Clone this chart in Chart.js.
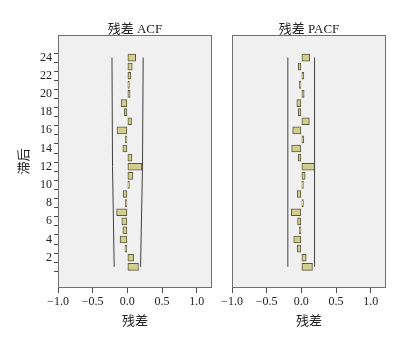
<!DOCTYPE html>
<html>
<head>
<meta charset="utf-8">
<script src="https://cdn.jsdelivr.net/npm/chart.js@4/dist/chart.umd.min.js"></script>
<style>
    body { margin: 0; background: #ffffff; }
    #wrap { position: relative; width: 403px; height: 338px; }
    canvas { position: absolute; top: 0; }
</style>
</head>
<body>
<div id="wrap">
    <canvas id="acfChart" style="left:0px" width="218" height="338"></canvas>
    <canvas id="pacfChart" style="left:218px" width="185" height="338"></canvas>
</div>
<script>
// lags 1..24 (bottom to top)
const lags = [1, 2, 3, 4, 5, 6, 7, 8, 9, 10, 11, 12, 13, 14, 15, 16, 17, 18, 19, 20, 21, 22, 23, 24];
const acfValues = [0.16, 0.09, -0.035, -0.105, -0.065, -0.08, -0.155, -0.02, -0.06, 0.02, 0.08, 0.21,
    0.065, -0.065, -0.025, -0.15, 0.06, -0.045, -0.09, 0.04, 0.01, 0.05, 0.07, 0.12];
const pacfValues = [0.16, 0.07, -0.06, -0.11, -0.03, -0.055, -0.145, 0.025, -0.06, 0.01, 0.055, 0.19,
    -0.045, -0.14, 0.035, -0.125, 0.115, -0.045, -0.065, 0.04, -0.01, 0.035, -0.045, 0.12];

// confidence limits (lag, value)
const acfLimitLags = [1, 12, 24];
const acfUpper = [0.19, 0.218, 0.228];
const acfLower = [-0.19, -0.214, -0.222];
const pacfLimitLags = [1, 24];
const pacfUpper = [0.19, 0.19];
const pacfLower = [-0.195, -0.195];

const xTicks = [-1.0, -0.5, 0.0, 0.5, 1.0];

const fontFamily = "'Liberation Serif', 'Noto Sans CJK SC', serif";

//背景和边框
const panelBox = {
    id: 'panelBox',
    beforeDraw(chart) {
        const a = chart.chartArea;
        const ctx = chart.ctx;
        ctx.save();
        ctx.fillStyle = '#f0f0f0';
        ctx.fillRect(a.left, a.top, a.right - a.left, a.bottom - a.top);
        ctx.restore();
    },
    afterDraw(chart) {
        const a = chart.chartArea;
        const ctx = chart.ctx;
        ctx.save();
        ctx.strokeStyle = '#707070';
        ctx.lineWidth = 1;
        ctx.strokeRect(Math.round(a.left) + 0.5, Math.round(a.top) + 0.5,
            Math.round(a.right - a.left) - 1, Math.round(a.bottom - a.top) - 1);
        ctx.restore();
    }
};

function makeChart(id, title, values, limLags, upper, lower, showY) {
    const ctx = document.getElementById(id);
    return new Chart(ctx, {
        type: 'bar',
        data: {
            datasets: [{
                type: 'bar',
                data: lags.map((l, i) => ({ x: values[i], y: l })),
                backgroundColor: '#d3cd8f',
                borderColor: '#5a583a',
                borderWidth: 1,
                borderSkipped: false,
                barThickness: 7,
                minBarLength: 2,
                order: 2
            },
            {
                type: 'line',
                indexAxis: 'y',
                data: limLags.map((l, i) => ({ x: upper[i], y: l })),
                borderColor: '#404040',
                borderWidth: 1,
                pointRadius: 0,
                fill: false,
                order: 1
            },
            {
                type: 'line',
                indexAxis: 'y',
                data: limLags.map((l, i) => ({ x: lower[i], y: l })),
                borderColor: '#404040',
                borderWidth: 1,
                pointRadius: 0,
                fill: false,
                order: 1
            }]
        },
        options: {
            indexAxis: 'y',
            responsive: false,
            animation: false,
            layout: {
                padding: showY ? { left: 0, right: 6, top: 0, bottom: 5 } : { left: 14, right: 17, top: 0, bottom: 5 }
            },
            scales: {
                x: {
                    type: 'linear',
                    min: -1.0,
                    max: 1.22,
                    afterBuildTicks: (axis) => { axis.ticks = xTicks.map(v => ({ value: v })); },
                    grid: { drawOnChartArea: false, drawTicks: true, tickLength: 5, color: '#505050' },
                    border: { display: false },
                    ticks: {
                        color: '#222',
                        padding: 2,
                        maxRotation: 0,
                        font: { family: fontFamily, size: 12 },
                        callback: (v) => (v < 0 ? '\u2212' : '') + Math.abs(v).toFixed(1)
                    },
                    title: {
                        display: true,
                        text: '残差',
                        color: '#222',
                        padding: { top: 2, bottom: 4 },
                        font: { family: fontFamily, size: 13 }
                    }
                },
                // 上方的轴只用来放标题，让标题对准绘图区中间
                xTop: {
                    type: 'linear',
                    position: 'top',
                    afterFit: (axis) => { axis.height = 35; },
                    grid: { display: false },
                    border: { display: false },
                    ticks: { display: false },
                    title: {
                        display: true,
                        text: title,
                        color: '#222',
                        padding: { top: 22, bottom: 0 },
                        font: { family: fontFamily, size: 13 }
                    }
                },
                y: {
                    type: 'linear',
                    display: showY,
                    min: -0.75,
                    max: 25.9,
                    afterBuildTicks: (axis) => { axis.ticks = lags.map(v => ({ value: v })); },
                    afterFit: (axis) => { if (showY) axis.width = 58; },
                    grid: { drawOnChartArea: false, drawTicks: true, tickLength: 4, color: '#505050' },
                    border: { display: false },
                    ticks: {
                        color: '#222',
                        padding: 2,
                        autoSkip: false,
                        font: { family: fontFamily, size: 12 },
                        callback: (v) => (v % 2 === 0 ? String(v) : '')
                    },
                    title: {
                        display: true,
                        text: '滞后',
                        color: '#222',
                        padding: { top: 17, bottom: 0 },
                        font: { family: fontFamily, size: 13 }
                    }
                }
            },
            plugins: {
                legend: { display: false },
                tooltip: { enabled: false }
            }
        },
        plugins: [panelBox]
    });
}

makeChart('acfChart', '残差 ACF', acfValues, acfLimitLags, acfUpper, acfLower, true);
makeChart('pacfChart', '残差 PACF', pacfValues, pacfLimitLags, pacfUpper, pacfLower, false);
</script>
</body>
</html>
